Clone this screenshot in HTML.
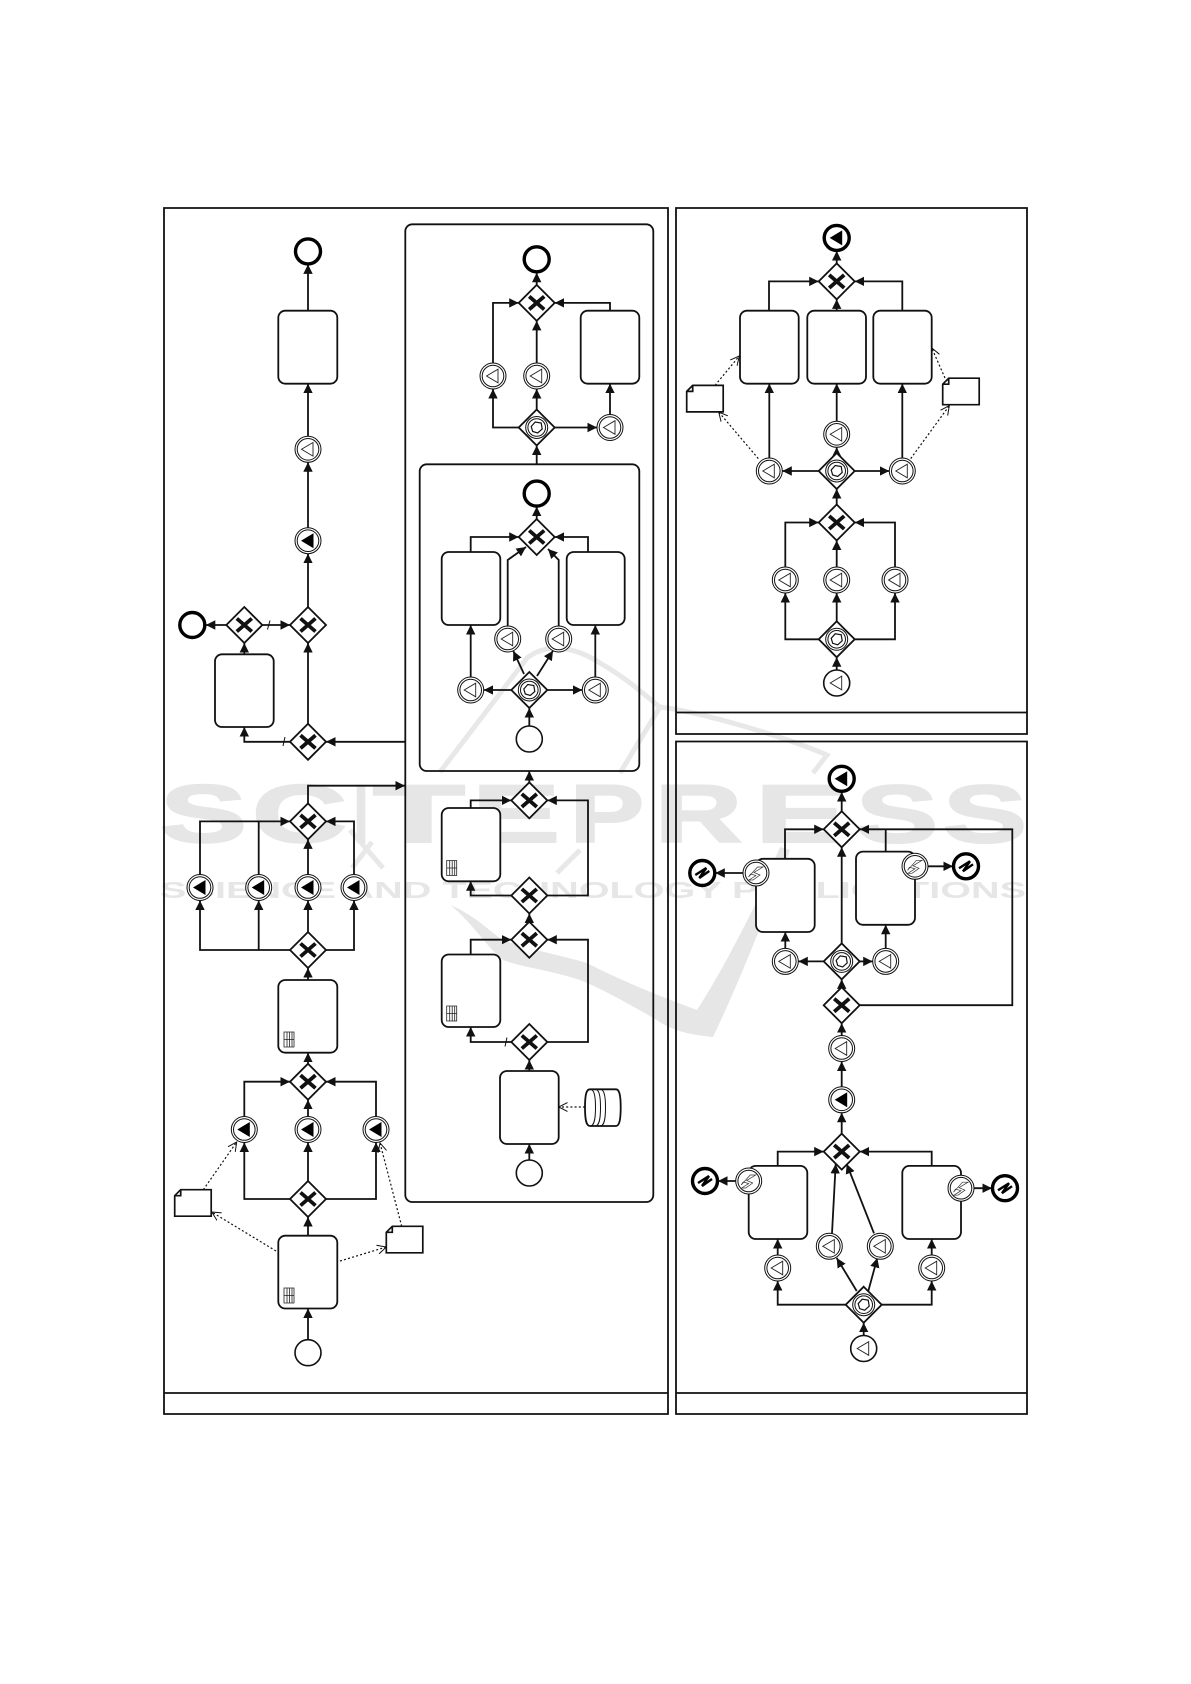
<!DOCTYPE html>
<html><head><meta charset="utf-8"><title>Diagram</title>
<style>
html,body{margin:0;padding:0;background:#fff}
svg{display:block}
.p{fill:none;stroke:#111;stroke-width:1.8}
.l{fill:none;stroke:#111;stroke-width:1.8;marker-end:url(#a)}
.n{fill:none;stroke:#111;stroke-width:1.8}
.d{fill:none;stroke:#111;stroke-width:1.2;stroke-dasharray:2 2.2;marker-end:url(#o)}
.t{fill:#fff;stroke:#111;stroke-width:1.8}
.s{fill:none;stroke:#111;stroke-width:1}
.w{font-family:"Liberation Sans",sans-serif;font-weight:bold;fill:#e6e6e6}
.W{font-size:82px;stroke:#e6e6e6;stroke-width:2}
</style></head><body>
<svg width="1191" height="1684" viewBox="0 0 1191 1684" xmlns="http://www.w3.org/2000/svg">
<defs>
<marker id="a" markerUnits="userSpaceOnUse" markerWidth="11" markerHeight="11" refX="9.5" refY="5" orient="auto"><path d="M0,0.3L9.5,5L0,9.7z" fill="#111"/></marker>
<marker id="o" markerUnits="userSpaceOnUse" markerWidth="12" markerHeight="12" refX="9" refY="5" orient="auto"><path d="M0,0.5L9,5L0,9.5" fill="none" stroke="#111" stroke-width="1"/></marker>
<g id="gx"><path d="M0-18L18 0L0 18L-18 0z" class="t"/><path d="M-7.5-6.5L7.5 6.5M-7.5 6.5L7.5-6.5" stroke="#111" stroke-width="3.8" fill="none"/></g>
<g id="gb"><path d="M0-18L18 0L0 18L-18 0z" class="t"/><circle r="11" class="s"/><circle r="8.8" class="s"/><path d="M-5.5-1L-1.5-5.5L4.5-4.5L5.5 1.5L1 5.5L-4 4z" fill="#fff" stroke="#111" stroke-width="1.2"/></g>
<g id="ie"><circle r="13" fill="#fff" stroke="#111" stroke-width="1"/><circle r="10.8" fill="#fff" stroke="#111" stroke-width="1"/><path d="M-6.5 0L5-6.8V6.8z" fill="#fff" stroke="#222" stroke-width=".9"/></g>
<g id="if"><circle r="13" fill="#fff" stroke="#111" stroke-width="1"/><circle r="10.8" fill="#fff" stroke="#111" stroke-width="1"/><path d="M-7 0L5.5-7.5V7.5z" fill="#000"/></g>
<g id="st"><circle r="13" fill="#fff" stroke="#111" stroke-width="1.6"/></g>
<g id="se"><circle r="13" fill="#fff" stroke="#111" stroke-width="1.6"/><path d="M-6.5 0L5-6.8V6.8z" fill="#fff" stroke="#222" stroke-width=".9"/></g>
<g id="en"><circle r="12.5" fill="#fff" stroke="#000" stroke-width="3.4"/></g>
<g id="ef"><circle r="12.5" fill="#fff" stroke="#000" stroke-width="3.4"/><path d="M-7 0L5.5-7.5V7.5z" fill="#000"/></g>
<g id="ez"><circle r="12.5" fill="#fff" stroke="#000" stroke-width="3.4"/><path d="M-7 2L4-5L-3 5L7-2" fill="none" stroke="#000" stroke-width="2.4"/></g>
<g id="bz"><circle r="13" fill="#fff" stroke="#111" stroke-width="1"/><circle r="10.8" fill="#fff" stroke="#111" stroke-width="1"/><path d="M-7.5 4L1.5-6H7L-2-.5L4 2L-3 7H-7L0 2.5L-5.5 1z" fill="#fff" stroke="#333" stroke-width=".7"/></g>
<g id="tb"><path d="M0 0H10V15H0zM3 0V15M5.5 0V15M8 0V15M0 7.5H10" fill="#fff" stroke="#222" stroke-width=".8"/></g>
<g id="dc"><path d="M6 0H36.5V26.5H0V6zM6 0V6H0" fill="#fff" stroke="#111" stroke-width="1.7"/></g>
</defs>
<rect width="1191" height="1684" fill="#fff"/>

<!-- watermark -->
<g>
<path d="M440 772L527 658C550 640 580 650 600 663C630 680 650 700 660 707L620 773M660 707C700 712 780 735 827 755L813 773" fill="none" stroke="#e8e8e8" stroke-width="5"/>
<path d="M580 850L557 873" fill="none" stroke="#e8e8e8" stroke-width="5"/>
<path d="M350 830L383 868M372 842L352 868" fill="none" stroke="#e8e8e8" stroke-width="5"/>
<path d="M450 905C475 915 490 932 503 940C530 950 560 955 587 963C630 985 670 1000 697 1010C720 975 745 925 755 905L780 847L790 850C775 890 745 970 713 1037C690 1035 670 1030 657 1020C630 1005 605 990 580 980C550 970 525 968 503 960C485 945 470 920 450 905z" fill="#e6e6e6"/>
<g class="w W">
<text x="160" y="842" textLength="87" lengthAdjust="spacingAndGlyphs">S</text>
<text x="252" y="842" textLength="95" lengthAdjust="spacingAndGlyphs">C</text>
<text x="354" y="842" textLength="14" lengthAdjust="spacingAndGlyphs">I</text>
<text x="373" y="842" textLength="92" lengthAdjust="spacingAndGlyphs">T</text>
<text x="472" y="842" textLength="88" lengthAdjust="spacingAndGlyphs">E</text>
<text x="570" y="842" textLength="74" lengthAdjust="spacingAndGlyphs">P</text>
<text x="655" y="842" textLength="87" lengthAdjust="spacingAndGlyphs">R</text>
<text x="755" y="842" textLength="92" lengthAdjust="spacingAndGlyphs">E</text>
<text x="856" y="842" textLength="82" lengthAdjust="spacingAndGlyphs">S</text>
<text x="943" y="842" textLength="84" lengthAdjust="spacingAndGlyphs">S</text>
</g>
<text class="w" x="160" y="898" font-size="23" textLength="866" lengthAdjust="spacingAndGlyphs">SCIENCE AND TECHNOLOGY PUBLICATIONS</text>
</g>

<!-- panels -->
<path class="p" d="M164 208H668V1414H164zM164 1393H668M676 208H1027V734H676zM676 712.5H1027M676 741.5H1027V1414H676zM676 1393H1027"/>
<rect class="p" x="405.3" y="224.3" width="248" height="977.7" rx="7"/>
<rect class="p" x="419.7" y="464.3" width="219.6" height="306.7" rx="7"/>

<!-- connectors panel 1 left -->
<path class="l" d="M308 1339.7V1308.5"/><path class="l" d="M308 1235.7V1217"/><path class="l" d="M308 1181V1142.5"/>
<path class="l" d="M290 1199H244.3V1142.5"/><path class="l" d="M326 1199H376V1142.5"/>
<path class="l" d="M308 1116.5V1099.7"/><path class="l" d="M244.3 1116.5V1081.7H290"/><path class="l" d="M376 1116.5V1081.7H326"/>
<path class="l" d="M308 1063.7V1052.7"/><path class="l" d="M308 980V968"/>
<path class="l" d="M290 950H200V900.5"/><path class="l" d="M258.7 950V900.5"/><path class="l" d="M326 950H354V900.5"/><path class="l" d="M308 932V900.5"/>
<path class="l" d="M200 874.5V821.4H290"/><path class="n" d="M258.7 874.5V821.4"/><path class="l" d="M308 874.5V839.4"/><path class="l" d="M354 874.5V821.4H326"/>
<path class="l" d="M308 803.4V785.7H405"/><path class="l" d="M405 741.8H326"/><path class="l" d="M308 723.8V643"/>
<path class="l" d="M290 741.8H244.3V727"/><path class="s" d="M283 746L285 737"/>
<path class="l" d="M308 607V553.7"/><path class="l" d="M308 527.7V462.3"/><path class="l" d="M308 436.3V383.6"/><path class="l" d="M308 310.7V264.4"/>
<path class="l" d="M262.3 625H290"/><path class="s" d="M267.5 629.5L270 620.5"/>
<path class="l" d="M226.3 625H205.8"/><path class="l" d="M244.3 654.3V643"/>
<!-- dotted left -->
<path class="d" d="M203.3 1189.7L236.7 1142"/><path class="d" d="M276 1251L211.7 1212"/><path class="d" d="M340 1261L386.3 1247"/><path class="d" d="M401.7 1226.3L380 1143"/>

<!-- connectors subprocess -->
<path class="l" d="M529.3 1160V1144"/><path class="l" d="M529.3 1071V1060"/>
<path class="l" d="M511.3 1042H470.7V1027"/><path class="s" d="M505 1046.5L507 1037.5"/>
<path class="l" d="M547.3 1042H588V939.7H547.3"/><path class="l" d="M470.7 954.5V939.7H511.3"/>
<path class="l" d="M529.3 921.7V913.5"/><path class="l" d="M511.3 895.5H470.7V881.3"/>
<path class="l" d="M547.3 895.5H588V800.4H547.3"/><path class="l" d="M470.7 808V800.4H511.3"/><path class="l" d="M529.3 782.4V771"/>
<path class="d" d="M585 1107H558.7"/>
<path class="l" d="M529.3 726V708"/><path class="l" d="M511.3 690H483.7"/><path class="l" d="M547.3 690H582.3"/>
<path class="l" d="M470.7 677V625"/><path class="l" d="M595.3 677V625"/>
<path class="l" d="M524 674L513.3 651"/><path class="l" d="M537 676L553 650.7"/>
<path class="l" d="M470.7 552V537H518.7"/><path class="l" d="M588 552V537H554.7"/>
<path class="l" d="M507.7 626V560L526 547"/><path class="l" d="M558.7 626V560L548 549"/>
<path class="l" d="M536.7 519V506.6"/><path class="l" d="M536.7 464.3V445.5"/>
<path class="l" d="M518.7 427.5H493V389"/><path class="l" d="M536.7 409.5V389"/><path class="l" d="M554.7 427.5H597"/>
<path class="l" d="M610 414.5V383.6"/><path class="l" d="M610 310.7V302.9H554.7"/>
<path class="l" d="M493 363V302.9H518.7"/><path class="l" d="M536.7 363V320.9"/><path class="l" d="M536.7 284.9V272.8"/>

<!-- connectors panel 2 -->
<path class="l" d="M836.7 670V657.3"/><path class="l" d="M818.7 639.3H785.3V593"/><path class="l" d="M836.7 621.3V593"/><path class="l" d="M854.7 639.3H895V593"/>
<path class="l" d="M785.3 567V522.5H818.7"/><path class="l" d="M836.7 567V540.5"/><path class="l" d="M895 567V522.5H854.7"/>
<path class="l" d="M836.7 504.5V489"/><path class="l" d="M818.7 471H782.3"/><path class="l" d="M854.7 471H889.3"/><path class="l" d="M836.7 453V447.3"/>
<path class="l" d="M769.3 458V383.6"/><path class="l" d="M836.7 421.3V383.6"/><path class="l" d="M902.3 458V383.6"/>
<path class="l" d="M769 310.7V281.4H818.7"/><path class="l" d="M836.7 310.7V299.4"/><path class="l" d="M902.3 310.7V281.4H854.7"/><path class="l" d="M836.7 263.4V251"/>
<path class="d" d="M715 385.4L739.3 356"/><path class="d" d="M758.3 458.6L718.7 412"/><path class="d" d="M945 378L931.7 347.9"/><path class="d" d="M910.7 458.6L949.3 405.7"/>

<!-- connectors panel 3 -->
<path class="l" d="M863.7 1335.5V1322.7"/><path class="l" d="M845.7 1304.7H777.7V1281"/><path class="l" d="M881.7 1304.7H931.7V1281"/>
<path class="l" d="M856.7 1291L836.7 1258"/><path class="l" d="M868.3 1291L877.3 1258"/>
<path class="l" d="M777.7 1255V1239"/><path class="l" d="M931.7 1255V1239"/>
<path class="l" d="M777.7 1165.9V1151.6H823.7"/><path class="l" d="M931.7 1165.9V1151.6H859.7"/>
<path class="l" d="M832 1233.3L835.7 1164"/><path class="l" d="M874 1233.3L846.7 1164"/>
<path class="l" d="M841.7 1133.6V1112.8"/><path class="l" d="M841.7 1086.8V1061.5"/><path class="l" d="M841.7 1035.5V1023.2"/><path class="l" d="M841.7 987.2V979.4"/>
<path class="l" d="M823.7 961.4H798.3"/><path class="l" d="M859.7 961.4H872.7"/><path class="l" d="M841.7 943.4V847.3"/>
<path class="l" d="M785.3 948.4V932"/><path class="l" d="M885.7 948.4V924.8"/>
<path class="l" d="M785 858.8V829.3H823.7"/><path class="n" d="M885.7 851.6V829.3"/><path class="l" d="M859.7 1005.2H1012.3V829.3H859.7"/><path class="l" d="M841.7 811.3V792"/>
<path class="l" d="M743 873H715.3"/><path class="l" d="M928 866.3H953"/><path class="l" d="M735.7 1181H718"/><path class="l" d="M974 1188.2H992"/>

<!-- tasks -->
<g class="t">
<rect x="278.3" y="310.7" width="59" height="73" rx="7"/>
<rect x="215" y="654.3" width="58.7" height="72.7" rx="7"/>
<rect x="278.3" y="980" width="59" height="72.7" rx="7"/>
<rect x="278.3" y="1235.7" width="59" height="72.8" rx="7"/>
<rect x="580.7" y="310.7" width="58.6" height="73" rx="7"/>
<rect x="441.7" y="552" width="58.6" height="73" rx="7"/>
<rect x="566.7" y="552" width="58" height="73" rx="7"/>
<rect x="441.7" y="808" width="58.6" height="73.3" rx="7"/>
<rect x="441.7" y="954.5" width="58.6" height="72.5" rx="7"/>
<rect x="500" y="1071" width="58.7" height="73" rx="7"/>
<rect x="740" y="310.7" width="58.7" height="73" rx="7"/>
<rect x="807.3" y="310.7" width="58.7" height="73" rx="7"/>
<rect x="873.3" y="310.7" width="58.4" height="73" rx="7"/>
<rect x="756" y="858.8" width="58.7" height="73.2" rx="7"/>
<rect x="856" y="851.6" width="59" height="73.2" rx="7"/>
<rect x="748.7" y="1165.9" width="58.6" height="73.1" rx="7"/>
<rect x="902.3" y="1165.9" width="58.7" height="73.1" rx="7"/>
</g>
<use href="#tb" x="284" y="1032"/><use href="#tb" x="284" y="1288"/><use href="#tb" x="446.7" y="860.5"/><use href="#tb" x="446.7" y="1006"/>

<!-- docs and database -->
<use href="#dc" x="174.7" y="1189.7"/><use href="#dc" x="386.3" y="1226.3"/>
<use href="#dc" x="686.7" y="385.4"/><use href="#dc" x="942.7" y="378.2"/>
<path d="M590 1089.3H616C619 1089.3 620.7 1094 620.7 1107.5S619 1126 616 1126H590C586.5 1126 585 1121 585 1107.5S586.5 1089.3 590 1089.3z" class="t"/>
<path class="s" d="M590 1089.3C594 1089.3 595.5 1095 595.5 1107.5S594 1126 590 1126M595 1089.3C599 1089.3 600.5 1095 600.5 1107.5S599 1126 595 1126M600 1089.3C604 1089.3 605.5 1095 605.5 1107.5S604 1126 600 1126"/>

<!-- gateways -->
<use href="#gx" x="308" y="625"/><use href="#gx" x="244.3" y="625"/><use href="#gx" x="308" y="741.8"/>
<use href="#gx" x="308" y="821.4"/><use href="#gx" x="308" y="950"/><use href="#gx" x="308" y="1081.7"/><use href="#gx" x="308" y="1199"/>
<use href="#gx" x="536.7" y="302.9"/><use href="#gb" x="536.7" y="427.5"/><use href="#gx" x="536.7" y="537"/><use href="#gb" x="529.3" y="690"/>
<use href="#gx" x="529.3" y="800.4"/><use href="#gx" x="529.3" y="895.5"/><use href="#gx" x="529.3" y="939.7"/><use href="#gx" x="529.3" y="1042"/>
<use href="#gx" x="836.7" y="281.4"/><use href="#gb" x="836.7" y="471"/><use href="#gx" x="836.7" y="522.5"/><use href="#gb" x="836.7" y="639.3"/>
<use href="#gx" x="841.7" y="829.3"/><use href="#gb" x="841.7" y="961.4"/><use href="#gx" x="841.7" y="1005.2"/><use href="#gx" x="841.7" y="1151.6"/><use href="#gb" x="863.7" y="1304.7"/>

<!-- events -->
<use href="#en" x="308" y="251.4"/><use href="#en" x="192.3" y="625"/><use href="#en" x="536.7" y="259.3"/><use href="#en" x="536.7" y="493.6"/>
<use href="#ie" x="308" y="449.3"/><use href="#if" x="308" y="540.7"/>
<use href="#ie" x="493" y="376"/><use href="#ie" x="536.7" y="376"/><use href="#ie" x="610" y="427.5"/>
<use href="#ie" x="507.7" y="639"/><use href="#ie" x="558.7" y="639"/><use href="#ie" x="470.7" y="690"/><use href="#ie" x="595.3" y="690"/>
<use href="#st" x="529.3" y="739"/><use href="#st" x="529.3" y="1173"/><use href="#st" x="308" y="1352.7"/>
<use href="#if" x="200" y="887.5"/><use href="#if" x="258.7" y="887.5"/><use href="#if" x="308" y="887.5"/><use href="#if" x="354" y="887.5"/>
<use href="#if" x="244.3" y="1129.5"/><use href="#if" x="308" y="1129.5"/><use href="#if" x="376" y="1129.5"/>
<use href="#ef" x="836.7" y="237.9"/><use href="#ie" x="836.7" y="434.3"/><use href="#ie" x="769.3" y="471"/><use href="#ie" x="902.3" y="471"/>
<use href="#ie" x="785.3" y="580"/><use href="#ie" x="836.7" y="580"/><use href="#ie" x="895" y="580"/><use href="#se" x="836.7" y="683"/>
<use href="#ef" x="841.7" y="778.8"/><use href="#ez" x="702.3" y="873"/><use href="#ez" x="966" y="866.3"/><use href="#bz" x="756" y="873"/><use href="#bz" x="915" y="866.3"/>
<use href="#ie" x="785.3" y="961.4"/><use href="#ie" x="885.7" y="961.4"/><use href="#ie" x="841.7" y="1048.5"/><use href="#if" x="841.7" y="1099.8"/>
<use href="#ez" x="705" y="1181"/><use href="#ez" x="1005" y="1188.2"/><use href="#bz" x="748.7" y="1181"/><use href="#bz" x="961" y="1188.2"/>
<use href="#ie" x="829.3" y="1246.3"/><use href="#ie" x="880.3" y="1246.3"/><use href="#ie" x="777.7" y="1268"/><use href="#ie" x="931.7" y="1268"/><use href="#se" x="863.7" y="1348.5"/>
</svg>
</body></html>
